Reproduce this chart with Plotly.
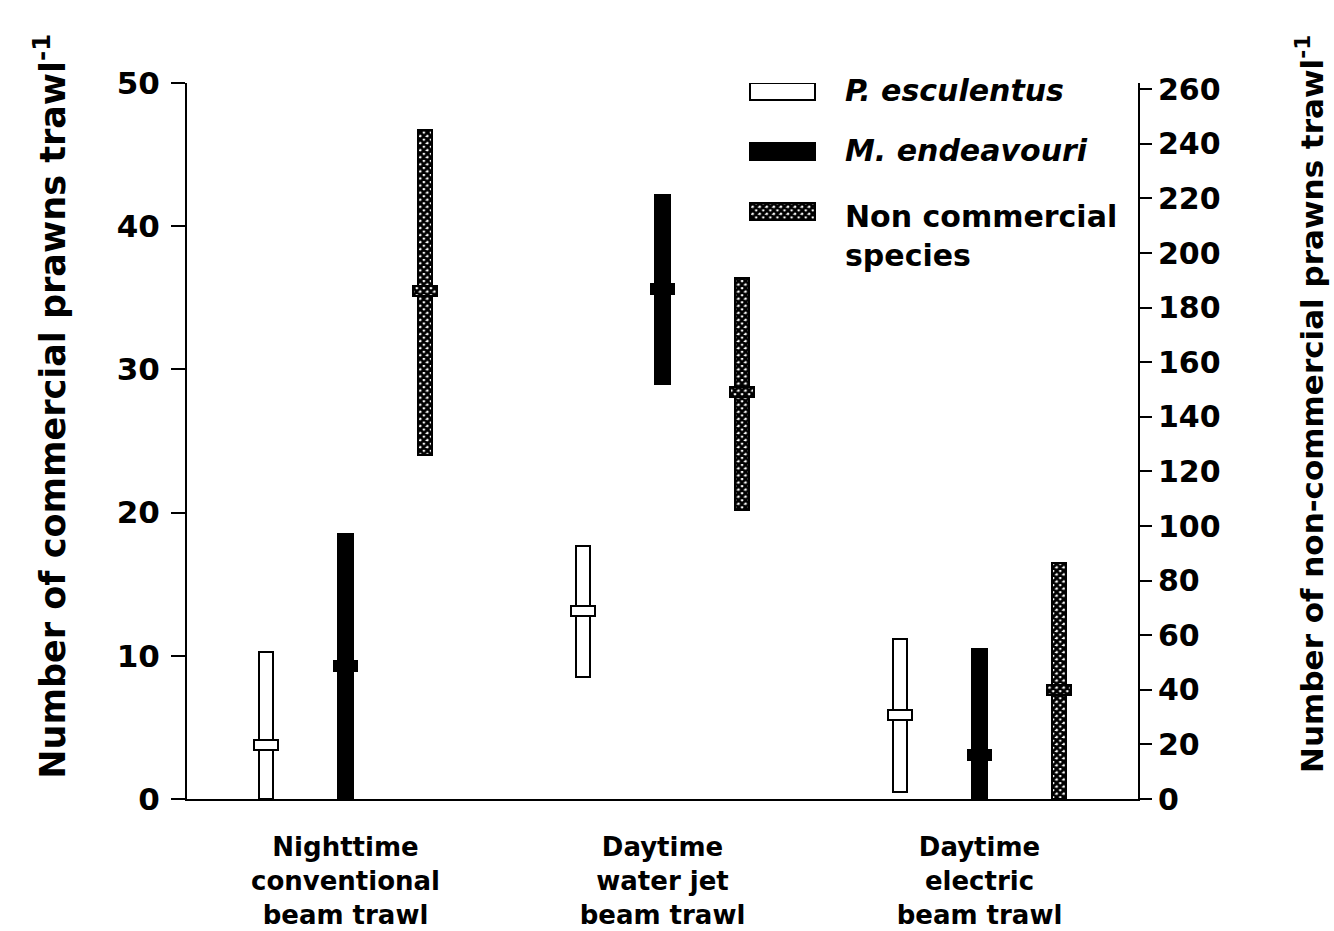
import plotly.graph_objects as go

# ---------------- data ----------------
categories = ["Nighttime<br>conventional<br>beam trawl",
              "Daytime<br>water jet<br>beam trawl",
              "Daytime<br>electric<br>beam trawl"]
cat_pos = [1, 2, 3]

pesc_low = [0.0, 8.5, 0.5]
pesc_high = [10.3, 17.7, 11.2]
pesc_mean = [3.8, 13.1, 5.9]

mend_low = [0.0, 29.0, 0.0]
mend_high = [18.5, 42.2, 10.5]
mend_mean = [9.3, 35.6, 3.1]

nonc_low = [126.0, 106.0, 0.0]
nonc_high = [245.0, 191.0, 86.5]
nonc_mean = [186.0, 149.0, 40.0]

left_ticks = [0, 10, 20, 30, 40, 50]
right_ticks = list(range(0, 261, 20))

# ---------------- style ----------------
FONT = "DejaVu Sans"
OFFSET = 0.25
BAR_W = 0.045
MEAN_W = 0.075
MEAN_H_LEFT = 0.7
MEAN_H_RIGHT = 0.7 * 262.3 / 50
LEFT_MAX = 50
RIGHT_MAX = 262.3

white = dict(color="white", line=dict(color="black", width=2))
black = dict(color="black", line=dict(color="black", width=2))
hatch = dict(color="white", line=dict(color="black", width=2),
             pattern=dict(shape="x", fgcolor="black", bgcolor="white",
                          size=5, solidity=0.8, fillmode="replace"))

fig = go.Figure()

def add_series(pos_shift, low, high, mean, marker, yaxis, mh):
    xs = [c + pos_shift for c in cat_pos]
    fig.add_trace(go.Bar(x=xs, y=[h - l for h, l in zip(high, low)], base=low,
                         width=BAR_W, marker=marker, yaxis=yaxis,
                         showlegend=False, hoverinfo="skip"))
    fig.add_trace(go.Bar(x=xs, y=[mh] * len(mean), base=[m - mh / 2 for m in mean],
                         width=MEAN_W, marker=marker, yaxis=yaxis,
                         showlegend=False, hoverinfo="skip"))

add_series(-OFFSET, pesc_low, pesc_high, pesc_mean, white, "y", MEAN_H_LEFT)
add_series(0.0, mend_low, mend_high, mend_mean, black, "y", MEAN_H_LEFT)
add_series(OFFSET, nonc_low, nonc_high, nonc_mean, hatch, "y2", MEAN_H_RIGHT)

# ---------------- custom legend (paper-like axes x3/y3) ----------------
legend_rows = [0.988, 0.904, 0.820]
legend_names = ["<i>P. esculentus</i>", "<i>M. endeavouri</i>",
                "Non commercial<br>species"]
legend_markers = [white, black, hatch]
lx0, lx1, lh = 0.592, 0.660, 0.024
for yc, mk in zip(legend_rows, legend_markers):
    fig.add_trace(go.Bar(x=[lx1 - lx0], base=[lx0], y=[yc], orientation="h",
                         width=lh, marker=mk, xaxis="x3", yaxis="y3",
                         showlegend=False, hoverinfo="skip"))
text_y = [0.990, 0.906, 0.787]
for yc, name in zip(text_y, legend_names):
    fig.add_annotation(x=0.690, y=yc, xref="paper", yref="paper", text=name,
                       showarrow=False, xanchor="left", yanchor="middle",
                       align="left",
                       font=dict(family=FONT, size=30, color="black", weight="bold"))

# ---------------- axis titles ----------------
fig.add_annotation(x=-0.144, y=0.548, xref="paper", yref="paper",
                   text="Number of commercial prawns trawl<sup>-1</sup>",
                   textangle=-90, showarrow=False, xanchor="center", yanchor="middle",
                   font=dict(family=FONT, size=35, color="black", weight="bold"))
fig.add_annotation(x=1.181, y=0.552, xref="paper", yref="paper",
                   text="Number of non-commercial prawns trawl<sup>-1</sup>",
                   textangle=-90, showarrow=False, xanchor="center", yanchor="middle",
                   font=dict(family=FONT, size=31, color="black", weight="bold"))

fig.update_layout(
    width=1334, height=931,
    margin=dict(l=187, r=196, t=83, b=132),
    paper_bgcolor="white", plot_bgcolor="white",
    barmode="overlay", bargap=0,
    font=dict(family=FONT, color="black"),
    xaxis=dict(range=[0.5, 3.5], tickvals=cat_pos, ticktext=categories,
               showline=True, linecolor="black", linewidth=2, ticks="",
               showgrid=False, zeroline=False, ticklabelstandoff=24,
               automargin=False,
               tickfont=dict(family=FONT, size=26, color="black", weight="bold")),
    yaxis=dict(range=[0, LEFT_MAX], tickvals=left_ticks,
               showline=True, linecolor="black", linewidth=2,
               ticks="outside", ticklen=14, tickwidth=2, tickcolor="black",
               showgrid=False, zeroline=False, ticklabelstandoff=5,
               automargin=False,
               tickfont=dict(family=FONT, size=31, color="black", weight="bold")),
    yaxis2=dict(range=[0, RIGHT_MAX], tickvals=right_ticks, overlaying="y",
                side="right", anchor="x",
                showline=True, linecolor="black", linewidth=2,
                ticks="outside", ticklen=12, tickwidth=2, tickcolor="black",
                showgrid=False, zeroline=False, automargin=False,
                tickfont=dict(family=FONT, size=30, color="black", weight="bold")),
    xaxis3=dict(domain=[0, 1], range=[0, 1], anchor="y3", visible=False,
                overlaying="x"),
    yaxis3=dict(domain=[0, 1], range=[0, 1], anchor="x3", visible=False,
                overlaying="y"),
)

# remove the page's default 8px body margin so the figure fills the window
fig.write_html("out.html",
               config={"displayModeBar": False},
               post_script="document.body.style.margin='0';"
                           "document.body.style.overflow='hidden';")
